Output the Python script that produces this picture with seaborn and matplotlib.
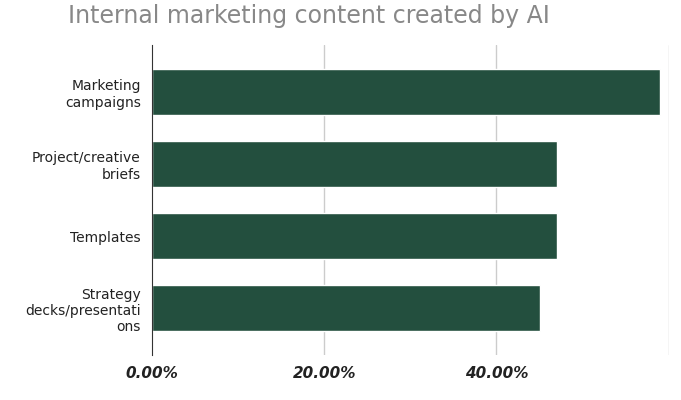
import matplotlib
matplotlib.use('Agg')
import matplotlib.pyplot as plt
import matplotlib.ticker as ticker
import seaborn as sns
import pandas as pd

categories = ['Marketing\ncampaigns', 'Project/creative\nbriefs', 'Templates',
              'Strategy\ndecks/presentati\nons']
values = [59.0, 47.0, 47.0, 45.0]

sns.set_style('white')
plt.rcParams['font.family'] = ['DejaVu Sans']

df = pd.DataFrame({'category': categories, 'value': values})

fig = plt.figure(figsize=(6.81, 4.0), dpi=100)
ax = fig.add_axes([0.223, 0.1125, 0.759, 0.775])
sns.barplot(data=df, x='value', y='category', color='#234F3E', saturation=1,
            width=0.64, ax=ax)

ax.set_xlim(0, 60)
ax.set_ylim(3.65, -0.65)
ax.set_xticks([0, 20, 40])
ax.xaxis.set_major_formatter(ticker.FuncFormatter(lambda v, p: '{:.2f}%'.format(v)))
for lbl in ax.get_xticklabels():
    lbl.set_fontweight('bold')
    lbl.set_fontstyle('italic')
    lbl.set_fontsize(11)
    lbl.set_color('#222222')
for x in [20, 40, 60]:
    ax.axvline(x, color='#cccccc', lw=1, zorder=0)
ax.tick_params(axis='y', labelsize=10, length=0, pad=8, labelcolor='#222222')
ax.tick_params(axis='x', length=0, pad=8)
for s in ['top', 'right', 'bottom']:
    ax.spines[s].set_visible(False)
ax.spines['left'].set_color('#333333')
ax.set_xlabel('')
ax.set_ylabel('')
fig.text(0.1, 0.93, 'Internal marketing content created by AI', fontsize=17,
         color='#888888', ha='left', va='bottom')

fig.savefig('out.png', dpi=100)
